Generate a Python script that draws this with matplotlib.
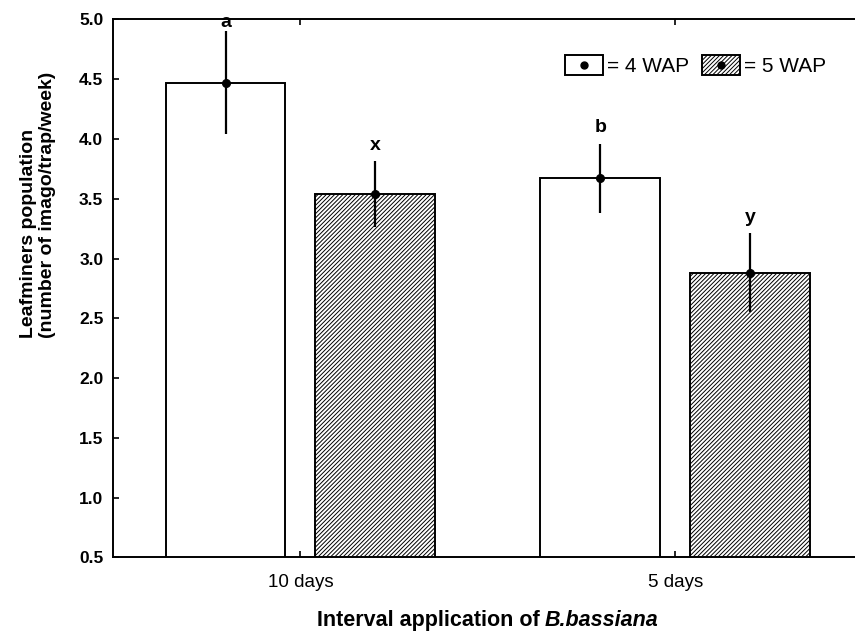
import numpy as np
import matplotlib
matplotlib.use("Agg")
from matplotlib import pyplot as plt
from matplotlib.patches import Rectangle
from matplotlib.lines import Line2D

plt.rcParams['font.family'] = ['Liberation Sans', 'DejaVu Sans']
plt.rcParams['hatch.linewidth'] = 0.7
plt.rcParams['hatch.color'] = '#5a5a5a'

# data
groups = ['10 days', '5 days']
wap4_mean = [4.47, 3.67]
wap4_err = [0.43, 0.29]
wap5_mean = [3.54, 2.88]
wap5_err = [0.275, 0.33]
letters4 = ['a', 'b']
letters5 = ['x', 'y']

HATCH = '////////'


class BoxDot:
    # legend key: a box with the mean dot in the middle
    def __init__(self, hatch=None):
        self.hatch = hatch

    def legend_artist(self, legend, orig_handle, fontsize, handlebox):
        x0, y0 = -handlebox.xdescent, -handlebox.ydescent
        w, h = handlebox.width, handlebox.height
        r = Rectangle((x0, y0), w, h, facecolor='white', edgecolor='black',
                      linewidth=1.4, hatch=self.hatch, transform=handlebox.get_transform())
        d = Line2D([x0 + w / 2], [y0 + h / 2], marker='o', ms=5, color='black', ls='none',
                   transform=handlebox.get_transform())
        handlebox.add_artist(r)
        handlebox.add_artist(d)
        return r


fig = plt.figure(figsize=(8.55, 6.34), dpi=100)
ax = fig.add_axes([0.1322, 0.1207, 0.877, 0.8486])

x = np.arange(len(groups))
w = 0.32
off = 0.2

b4 = ax.bar(x - off, wap4_mean, w, bottom=0, color='white', edgecolor='black', linewidth=1.4, zorder=2)
b5 = ax.bar(x + off, wap5_mean, w, bottom=0, color='white', edgecolor='black', linewidth=1.4,
            hatch=HATCH, zorder=2)

ax.errorbar(x - off, wap4_mean, yerr=wap4_err, fmt='o', color='black', ms=5.5,
            elinewidth=1.6, capsize=0, zorder=3)
ax.errorbar(x + off, wap5_mean, yerr=wap5_err, fmt='o', color='black', ms=5.5,
            elinewidth=1.6, capsize=0, zorder=3)

# significance letters
for xi, m, e, t in zip(x - off, wap4_mean, wap4_err, letters4):
    ax.text(xi, min(m + e + 0.095, 4.94), t, ha='center', va='baseline',
            fontsize=14, fontweight='bold', zorder=4)
for xi, m, e, t in zip(x + off, wap5_mean, wap5_err, letters5):
    ax.text(xi, min(m + e + 0.095, 4.94), t, ha='center', va='baseline',
            fontsize=14, fontweight='bold', zorder=4)

ax.set_xlim(-0.5, 1.5)
ax.set_ylim(0.5, 5.0)
ax.set_yticks(np.arange(0.5, 5.01, 0.5))
ax.set_yticklabels(['%.1f' % v for v in np.arange(0.5, 5.01, 0.5)], fontsize=12.5, fontweight='bold')
ax.set_xticks(x)
ax.set_xticklabels(groups, fontsize=13.5)
ax.tick_params(axis='y', direction='in', length=4, width=1.2, pad=7)
ax.tick_params(axis='x', direction='in', length=4, width=1.2, top=True, pad=12)
for s in ax.spines.values():
    s.set_linewidth(1.4)

# y label, two lines aligned at start
fig.text(0.044, 0.467, 'Leafminers population\n(number of imago/trap/week)',
         rotation=90, rotation_mode='anchor', ha='left', va='center',
         multialignment='left', fontsize=14, fontweight='bold', linespacing=1.15)

# x label with italic species name
t1 = fig.text(0.631, 0.012, 'Interval application of', ha='right', va='baseline',
              fontsize=15.5, fontweight='bold')
ax.annotate('B.bassiana', xy=(1, 0), xycoords=t1, xytext=(4, 0), textcoords='offset points',
            ha='left', va='bottom', fontsize=15.5, fontweight='bold', fontstyle='italic',
            annotation_clip=False)

# legend
ax.legend([b4, b5], ['= 4 WAP', '= 5 WAP'],
          handler_map={b4: BoxDot(), b5: BoxDot(HATCH)},
          ncol=2, loc='upper left', bbox_to_anchor=(0.603, 0.934), frameon=False,
          fontsize=15, handlelength=1.82, handleheight=1.1, handletextpad=0.19,
          columnspacing=0.62, borderpad=0, borderaxespad=0)

fig.savefig('out.png', dpi=100)
